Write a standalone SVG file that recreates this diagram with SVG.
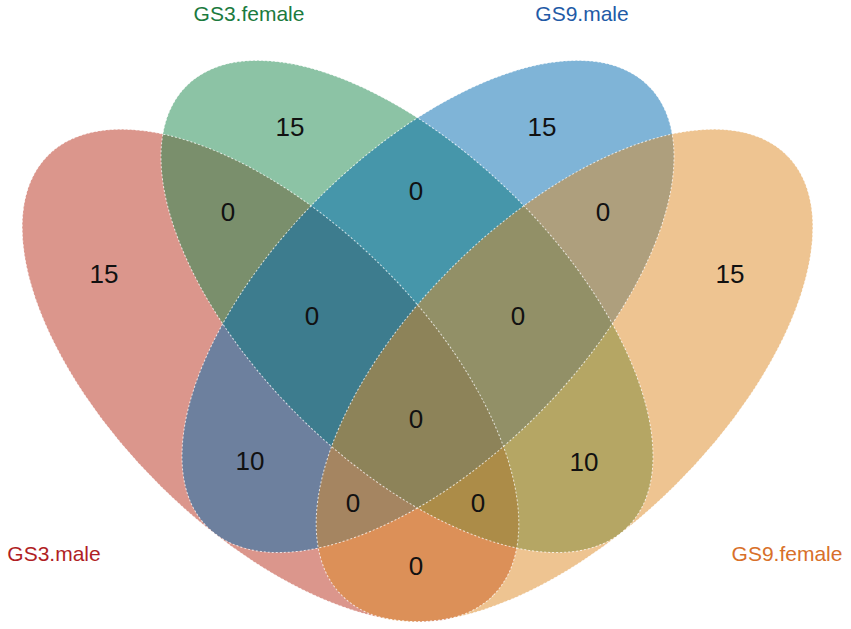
<svg xmlns="http://www.w3.org/2000/svg" width="851" height="629" viewBox="0 0 851 629">
<style>
.set{fill-opacity:0.5;stroke:none}
.edge{fill:none;stroke:#ffffff;stroke-opacity:0.75;stroke-width:1;stroke-dasharray:2 2}
.num{font-family:"Liberation Sans",Arial,sans-serif;font-size:26px;fill:#111;text-anchor:middle}
.lab{font-family:"Liberation Sans",Arial,sans-serif;font-size:21px;text-anchor:middle}
</style>
<defs>
<ellipse id="eA" cx="270.5" cy="375.5" rx="313" ry="156" transform="rotate(44.6 270.5 375.5)"/>
<ellipse id="eB" cx="407" cy="306.5" rx="312" ry="154" transform="rotate(45 407 306.5)"/>
<ellipse id="eC" cx="428" cy="306.5" rx="312" ry="154" transform="rotate(-45 428 306.5)"/>
<ellipse id="eD" cx="564.5" cy="375.5" rx="313" ry="156" transform="rotate(-44.6 564.5 375.5)"/>
</defs>
<rect width="851" height="629" fill="#ffffff"/>
<g id="sets">
<g id="GS3_male"><use href="#eA" class="set" fill="#B72D19"/></g>
<g id="GS3_female"><use href="#eB" class="set" fill="#19874B"/></g>
<g id="GS9_male"><use href="#eC" class="set" fill="#0069AF"/></g>
<g id="GS9_female"><use href="#eD" class="set" fill="#DD8923"/></g>
</g>
<g id="outlines">
<use href="#eA" class="edge"/>
<use href="#eB" class="edge"/>
<use href="#eC" class="edge"/>
<use href="#eD" class="edge"/>
</g>
<g id="labels">
<text class="lab" x="249" y="21" fill="#1B7A3E">GS3.female</text>
<text class="lab" x="582" y="21" fill="#1F5AA6">GS9.male</text>
<text class="lab" x="54" y="561" fill="#B01E24">GS3.male</text>
<text class="lab" x="787" y="561" fill="#D8702A">GS9.female</text>
</g>
<g id="counts">
<text class="num" x="104" y="283">15</text>
<text class="num" x="290" y="136">15</text>
<text class="num" x="542" y="136">15</text>
<text class="num" x="730" y="283">15</text>
<text class="num" x="228" y="221">0</text>
<text class="num" x="416" y="200">0</text>
<text class="num" x="603" y="221">0</text>
<text class="num" x="312" y="325">0</text>
<text class="num" x="518" y="325">0</text>
<text class="num" x="416" y="428">0</text>
<text class="num" x="250" y="470">10</text>
<text class="num" x="584" y="471">10</text>
<text class="num" x="353" y="512">0</text>
<text class="num" x="478" y="512">0</text>
<text class="num" x="416" y="575">0</text>
</g>
</svg>
